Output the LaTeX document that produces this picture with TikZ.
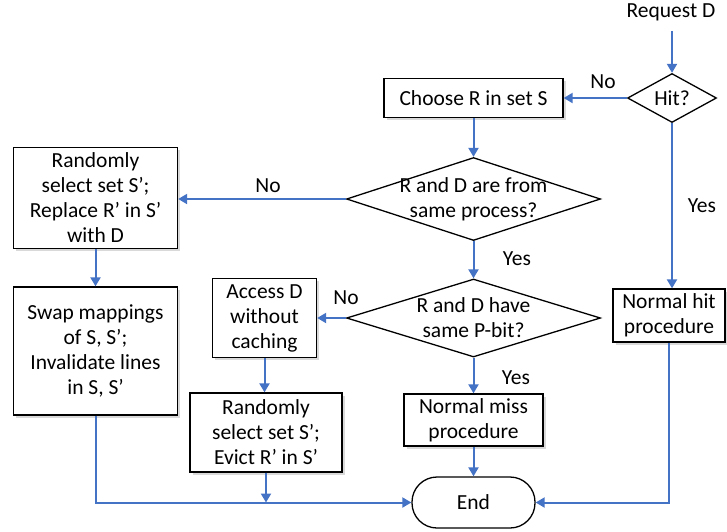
\documentclass[tikz,border=0pt]{standalone}
\usepackage{fontspec}
\setmainfont{Carlito}
\usetikzlibrary{shapes.geometric,arrows.meta,shadows}
\definecolor{flowblue}{HTML}{4472C4}
\begin{document}
\begin{tikzpicture}[x=1pt,y=-1pt,
  every node/.style={font=\fontsize{21.5}{25}\selectfont},
  box/.style={draw=black,line width=1.3pt,fill=white,align=center,inner sep=0pt,
    drop shadow={shadow xshift=2.5pt,shadow yshift=-2.5pt,opacity=0.15,fill=black}},
  dia/.style={draw=black,diamond,line width=1.3pt,inner sep=0pt,fill=white},
  flow/.style={draw=flowblue,line width=2pt,-{Triangle[length=9pt,width=10pt]}},
  lbl/.style={inner sep=0pt}]
\useasboundingbox (0,0) rectangle (727,531);

% nodes
\node[lbl] (req) at (671,12) {Request D};
\node[dia,minimum width=89,minimum height=49,label={center:Hit?}] (hit) at (672,98) {};
\node[box,minimum width=179,minimum height=39] (choose) at (473.5,98) {Choose R in set S};
\node[dia,minimum width=254,minimum height=83,
  label={[align=center]center:R and D are from\\same process?}] (d2) at (473.5,199) {};
\node[dia,minimum width=254,minimum height=78,
  label={[align=center]center:R and D have\\same P-bit?}] (d3) at (473.5,318) {};
\node[box,minimum width=164,minimum height=101] (b1) at (95.5,198)
  {Randomly\\select set S’;\\Replace R’ in S’\\with D};
\node[box,minimum width=164,minimum height=128] (b2) at (95.5,351)
  {Swap mappings\\of S, S’;\\Invalidate lines\\in S, S’};
\node[box,minimum width=104,minimum height=79] (b3) at (264.5,318)
  {Access D\\without\\caching};
\node[box,minimum width=152,minimum height=79] (b4) at (266,432.5)
  {Randomly\\select set S’;\\Evict R’ in S’};
\node[box,minimum width=139,minimum height=52] (b5) at (473.5,420)
  {Normal miss\\procedure};
\node[box,minimum width=112,minimum height=53] (hb) at (669,315.5)
  {Normal hit\\procedure};
\node[draw=black,line width=1.3pt,fill=white,rounded corners=25pt,
  minimum width=123,minimum height=51,inner sep=0pt] (end) at (473.5,502.5) {End};
\coordinate (j) at (b4.south |- end.west);

% labels
\node[lbl] (l1) at (603,82) {No};
\node[lbl] (l2) at (268,186) {No};
\node[lbl] (l3) at (702,206) {Yes};
\node[lbl] (l4) at (517,259) {Yes};
\node[lbl] (l5) at (346,298) {No};
\node[lbl] (l6) at (516,378) {Yes};

% connectors
\draw[flow,shorten <=10pt] (hit.north |- req.south) -- (hit.north);
\draw[flow] (hit.west) -- (choose.east);
\draw[flow] (hit.south) -- (hit.south |- hb.north);
\draw[flow] (choose.south) -- (d2.north);
\draw[flow] (d2.west) -- (d2.west -| b1.east);
\draw[flow] (d2.south) -- (d3.north);
\draw[flow] (b1.south) -- (b2.north);
\draw[flow] (d3.west) -- (d3.west -| b3.east);
\draw[flow] (d3.south) -- (b5.north);
\draw[flow] (b3.south) -- (b3.south |- b4.north);
\draw[flow] (b5.south) -- (end.north);
\draw[flow] (b2.south) |- (end.west);
\draw[flow] (b4.south) -- (j);
\draw[flow] (hb.south) |- (end.east);
\end{tikzpicture}
\end{document}
